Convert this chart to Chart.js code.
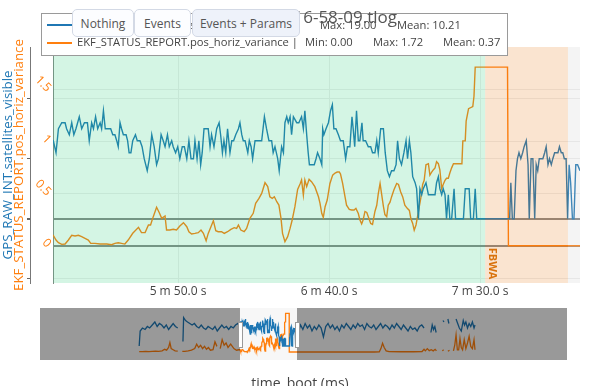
<!DOCTYPE html>
<html>
<head>
<meta charset="utf-8">
<script src="https://cdn.jsdelivr.net/npm/chart.js@4.4.0/dist/chart.umd.min.js"></script>
<style>
  body { margin: 0; background: #fff; }
  #wrap { position: relative; width: 600px; height: 386px; overflow: hidden; }
  #mainChart { position: absolute; left: 0; top: 0; }
  #navChart { position: absolute; left: 0; top: 300px; }
  .btn { position: absolute; top: 9px; height: 28px; padding: 0; box-sizing: border-box;
         border: 1px solid #d3d9e5; border-radius: 5px; background: #fcfdff; color: #555;
         font: 12px "Open Sans", sans-serif; }
  .btn.sel { background: #eef2fa; }
</style>
</head>
<body>
<div id="wrap">
  <canvas id="mainChart" width="600" height="300"></canvas>
  <canvas id="navChart" width="600" height="86"></canvas>
  <button class="btn" style="left:72px;width:62px">Nothing</button>
  <button class="btn" style="left:134px;width:57px">Events</button>
  <button class="btn sel" style="left:192px;width:108px">Events + Params</button>
</div>
<script>
// --- data (time in seconds since boot) ---
const chartTitle = '16-58-09.tlog';
const gpsTitle = 'GPS_RAW_INT.satellites_visible';
const ekfTitle = 'EKF_STATUS_REPORT.pos_horiz_variance';
const gpsStats = ['Min: 0.00', 'Max: 19.00', 'Mean: 10.21'];
const ekfStats = ['Min: 0.00', 'Max: 1.72', 'Mean: 0.37'];

// visible window of the main plot
const viewRange = [308.6, 483.1];
const xTicks = [350, 400, 450];
const varTicks = [0, 0.5, 1, 1.5];
const satTicks = [-10, 0, 10, 20];

// flight modes
const modeStart = [0, 451.7, 479.1];
const modeEnd = [451.7, 479.1, 1028];
const modeNames = ['', 'FBWA', ''];

// GPS satellites, before the window (only seen in the range slider)
const gpsTimeEarly = [0, 3, 10, 18, 25, 32, 40, 48, 55, 62,
  69, 76, 83, 90, 97, 104, 111, 118, 126, 134,
  136, 142, 148, 155, 162, 169, 176, 183, 190, 197,
  204, 211, 218, 225, 232, 239, 246, 253, 260, 267,
  274, 281, 288, 295, 302];
const gpsSatsEarly = [0, 10, 12, 11, 13, 12, 14, 16, 13, 15,
  14, 12, 14, 11, 13, 15, 13, 12, null, 3,
  19, 17, 16, 15, 14, 15, 13, 12, 14, 12,
  11, 13, 12, 11, 13, 10, 12, 14, 12, 13,
  11, 13, 12, 14, 15];

// GPS satellites, inside the window
const gpsTime = [308.7, 309.6, 310.4, 311.5, 312.6, 313.1, 314.0, 314.8, 315.5, 316.2,
  317.3, 318.1, 319.0, 320.0, 320.6, 321.4, 322.0, 322.7, 323.4, 324.2,
  324.7, 325.3, 325.9, 326.9, 327.7, 328.4, 329.1, 329.7, 330.2, 330.8,
  331.3, 331.9, 332.8, 333.3, 333.8, 334.4, 335.0, 335.9, 336.5, 337.4,
  338.1, 338.8, 339.8, 340.5, 341.3, 342.1, 342.9, 343.5, 344.4, 345.1,
  345.7, 346.5, 347.1, 347.9, 348.4, 349.2, 349.9, 350.6, 351.4, 352.1,
  352.9, 353.6, 354.3, 355.1, 355.6, 356.3, 356.9, 357.5, 358.0, 358.6,
  359.5, 360.0, 360.6, 361.1, 361.9, 362.8, 363.6, 364.1, 364.7, 365.2,
  365.8, 366.4, 367.2, 367.8, 368.4, 369.1, 370.0, 370.5, 371.1, 371.6,
  372.2, 373.1, 373.6, 374.2, 374.7, 375.5, 376.0, 376.8, 377.7, 378.6,
  379.3, 380.1, 381.0, 381.5, 382.1, 383.0, 383.5, 384.3, 384.9, 385.4,
  386.0, 386.5, 387.1, 387.6, 388.2, 389.3, 390.0, 390.9, 391.5, 392.0,
  392.6, 393.1, 393.5, 394.2, 395.1, 395.7, 396.2, 397.0, 397.6, 397.9,
  398.3, 399.0, 399.8, 400.5, 401.1, 401.6, 402.3, 403.1, 403.8, 404.7,
  405.5, 406.1, 406.9, 407.6, 408.0, 408.5, 409.1, 409.7, 410.2, 410.9,
  411.3, 412.1, 413.0, 413.8, 414.4, 415.2, 415.8, 416.3, 417.1, 418.0,
  418.6, 419.3, 420.0, 420.7, 421.5, 422.2, 422.7, 423.3, 424.0, 424.8,
  425.5, 426.0, 426.6, 427.1, 427.7, 428.5, 429.0, 429.6, 430.1, 430.7,
  431.2, 432.1, 432.9, 434.0, 435.1, 435.6, 436.2, 436.7, 437.3, 437.8,
  438.4, 438.9, 439.5, 440.0, 440.6, 441.4, 441.9, 444.5, 445.1, 446.4,
  446.9, 447.8, 448.4, 448.9, 459.4, 459.8, 460.2, 460.7, 461.3, 461.9,
  462.4, 462.9, 463.5, 464.1, 464.6, 465.3, 465.9, 466.3, 466.9, 467.5,
  468.1, 468.6, 469.1, 469.6, 470.1, 470.8, 471.4, 471.9, 472.5, 473.0,
  473.6, 474.1, 474.7, 475.2, 475.8, 476.3, 476.9, 477.4, 477.9, 478.5,
  479.0, 479.5, 480.0, 480.6, 481.1, 481.7, 482.3, 483.1];
const gpsSats = [13, 11, 15, 16, 16, 15, 14, 16, 14, 15,
  17, 15, 16, 16, 13, 16, 15, 17, 15, 16,
  15, 18, 15, 15, 15, 14, 14, 13, 12, 16,
  15, 14, 14, 13, 11, 11, 13, 14, 13, 13,
  12, 10, 8, 10, 14, 12, 9, 10, 14, 13,
  12, 14, 12, 13, 12, 11, 12, 10, 12, 12,
  10, 13, 10, 10, 13, 10, 13, 9, 11, 15,
  15, 15, 12, 14, 12, 15, 16, 14, 11, 13,
  11, 15, 11, 13, 13, 14, 15, 16, 14, 13,
  13, 11, 13, 12, 10, 13, 13, 13, 13, 17,
  15, 13, 13, 11, 12, 10, 8, 12, 11, 16,
  17, 16, 17, 14, 17, 16, 16, 17, 15, 18,
  14, 11, 9, 9, 9, 10, 11, 10, 9, 15,
  14, 15, 16, 18, 19, 15, 15, 14, 13, 13,
  10, 12, 12, 17, 15, 12, 18, 13, 13, 16,
  13, 13, 12, 12, 11, 11, 13, 11, 15, 15,
  11, 8, 7, 8, 8, 9, 13, 10, 9, 11,
  13, 10, 13, 11, 7, 6, 5, 0, 5, 4,
  5, 6, 4, 4, 4, 6, 7, 5, 4, 5,
  4, 0, 4, 0, 0, 5, 0, 0, 5, 5,
  0, 0, 5, 0, 0, 0, 6, 0, 0, 8,
  10, 11, 10, 11, 12, 13, 9, 0, 10, 10,
  0, 9, 8, 10, 10, 10, 11, 12, 9, 10,
  9, 10, 11, 11, 11, 12, 11, 11, 10, 10,
  0, 9, 6, 0, 0, 9, 9, 8];

// GPS satellites, after the window
const gpsTimeLate = [487, 494, 501, 508, 515, 522, 529, 536, 543, 550,
  557, 564, 571, 578, 585, 592, 599, 606, 613, 620,
  627, 634, 641, 648, 655, 662, 669, 676, 683, 690,
  697, 704, 711, 718, 725, 732, 739, 746, 753, 760,
  767, 774, 781, 788, 795, 802, 809, 816, 823, 830,
  837, 844, 851, 858, 865, 872, 880, 893, 897, 901,
  905, 909, 915, 930, 933, 938, 945, 948, 955, 970,
  975, 980, 986, 992, 996, 1000, 1005, 1010, 1015, 1020,
  1025, 1028];
const gpsSatsLate = [9, 14, 11, 15, 12, 14, 10, 13, 11, 14,
  12, 6, 13, 15, 12, 14, 11, 13, 10, 14,
  12, 15, 13, 11, 14, 12, 15, 13, 14, 11,
  15, 13, 12, 14, 11, 13, 15, 12, 14, 13,
  11, 14, 12, 15, 13, 11, 14, 12, 10, 13,
  11, 12, 10, 13, 14, 12, null, 9, 14, 11,
  13, 9, null, 17, 16, null, 18, 15, null, 18,
  15, 12, 10, 17, 14, 16, 12, 15, 13, 16,
  12, 14];

// EKF horizontal position variance
const ekfTimeEarly = [0, 10, 20, 30, 40, 50, 60, 70, 78, 84,
  90, 94, 98, 104, 110, 118, 125, 132, 140, 150,
  160, 170, 176, 182, 188, 194, 200, 206, 212, 218,
  226, 232, 238, 243, 248, 254, 260, 266, 272, 280,
  290, 298, 305];
const ekfVarEarly = [0.02, 0.02, 0.03, 0.02, 0.03, 0.04, 0.03, 0.05, 0.12, 0.08,
  0.2, 0.42, 0.15, 0.1, 0.05, 0.04, null, 0.03, 0.03, 0.05,
  0.08, 0.15, 0.35, 0.2, 0.3, 0.15, 0.25, 0.12, 0.2, 0.08,
  0.1, 0.45, 0.25, null, 0.15, 0.55, 0.3, 0.4, 0.2, 0.35,
  0.15, 0.08, 0.1];

const ekfTime = [308.7, 309.6, 310.4, 311.5, 312.6, 313.7, 314.8, 315.9, 317.0, 318.1,
  319.2, 320.3, 321.1, 322.5, 324.2, 326.4, 328.0, 329.1, 330.2, 331.3,
  332.4, 333.5, 335.0, 336.9, 337.9, 339.1, 340.2, 340.9, 341.8, 342.9,
  343.8, 344.6, 345.7, 346.2, 347.3, 348.4, 349.5, 350.6, 351.8, 352.9,
  353.6, 354.5, 355.6, 356.7, 357.6, 358.4, 359.3, 360.0, 360.9, 361.7,
  362.5, 363.3, 364.4, 365.3, 366.4, 367.5, 368.6, 369.4, 370.0, 370.8,
  371.9, 372.7, 373.8, 374.9, 375.7, 376.8, 377.7, 378.8, 379.7, 380.4,
  381.2, 381.9, 382.7, 383.4, 384.1, 384.6, 385.4, 386.3, 387.1, 387.8,
  388.7, 389.6, 390.4, 390.9, 391.5, 392.0, 392.6, 393.4, 394.2, 395.3,
  396.5, 397.0, 397.6, 398.1, 398.7, 399.4, 400.3, 401.2, 402.0, 402.7,
  403.4, 403.8, 404.5, 405.3, 405.8, 406.7, 407.5, 408.3, 408.9, 409.7,
  410.2, 410.8, 411.3, 411.9, 412.5, 413.0, 413.8, 414.4, 415.2, 415.8,
  416.3, 416.9, 417.4, 418.0, 418.5, 419.1, 419.6, 420.2, 420.7, 421.5,
  422.4, 423.0, 423.7, 424.4, 425.1, 425.9, 426.6, 427.1, 427.7, 428.2,
  428.8, 429.3, 429.9, 430.4, 431.0, 431.5, 432.1, 432.9, 433.4, 434.0,
  434.5, 435.1, 435.6, 436.2, 436.7, 437.3, 437.8, 438.4, 438.9, 439.5,
  440.0, 440.6, 441.2, 444.0, 444.3, 445.1, 445.4, 446.2, 447.6, 448.0,
  448.4, 459.1, 459.4, 483.1];
const ekfVar = [0.10, 0.055, 0.03, 0.013, 0.016, 0.055, 0.10, 0.094, 0.10, 0.087,
  0.071, 0.055, 0.023, 0.023, 0.016, 0.016, 0.01, 0.023, 0.029, 0.023,
  0.016, 0.055, 0.12, 0.177, 0.126, 0.126, 0.2, 0.2, 0.28, 0.37,
  0.318, 0.264, 0.286, 0.151, 0.151, 0.158, 0.151, 0.19, 0.222, 0.183,
  0.135, 0.113, 0.119, 0.126, 0.151, 0.119, 0.048, 0.119, 0.183, 0.241,
  0.145, 0.135, 0.135, 0.119, 0.135, 0.158, 0.174, 0.167, 0.2, 0.151,
  0.135, 0.167, 0.264, 0.312, 0.408, 0.456, 0.504, 0.607, 0.569, 0.472,
  0.456, 0.472, 0.424, 0.392, 0.264, 0.119, 0.039, 0.087, 0.167, 0.248,
  0.376, 0.543, 0.594, 0.633, 0.488, 0.633, 0.569, 0.639, 0.617, 0.569,
  0.472, 0.41, 0.31, 0.273, 0.376, 0.44, 0.60, 0.68, 0.70, 0.71,
  0.71, 0.69, 0.60, 0.47, 0.39, 0.35, 0.344, 0.344, 0.36, 0.31,
  0.25, 0.21, 0.25, 0.33, 0.32, 0.28, 0.215, 0.206, 0.33, 0.39,
  0.50, 0.60, 0.50, 0.38, 0.30, 0.28, 0.39, 0.42, 0.47, 0.54,
  0.60, 0.59, 0.52, 0.47, 0.39, 0.36, 0.34, 0.26, 0.215, 0.15,
  0.20, 0.28, 0.38, 0.46, 0.59, 0.63, 0.78, 0.79, 0.68, 0.71,
  0.73, 0.75, 0.81, 0.79, 0.73, 0.55, 0.59, 0.63, 0.65, 0.65,
  0.70, 0.75, 0.79, 0.79, 1.01, 1.01, 1.20, 1.32, 1.34, 1.44,
  1.72, 1.72, 0, 0];

const ekfTimeLate = [487, 520, 560, 600, 640, 680, 720, 735, 740, 745,
  750, 756, 765, 800, 840, 866, 872, 876, 882, 888,
  894, 900, 906, 910, 916, 928, 932, 938, 945, 950,
  955, 962, 966, 970, 974, 978, 982, 986, 990, 995,
  1000, 1005, 1010, 1015, 1020, 1025, 1028];
const ekfVarLate = [0, 0, 0, 0, 0, 0, 0, 0.01, 0.15, 0.39,
  0.2, 0.05, 0.02, 0.01, 0.01, 0.02, 0.12, 0.05, 0.15, 0.06,
  0.1, 0.05, 0.12, 0.05, null, 0.05, 0.1, null, 0.03, 0.08,
  null, 0.05, 0.3, 0.76, 0.1, 0.1, 0.6, 0.2, 0.1, 0.55,
  0.15, 0.4, 0.7, 0.25, 0.15, 0.55, 0.1];

// --- styling ---
const C_GPS = '#1f77b4';
const C_EKF = '#ff7f0e';
const FONT = '"Open Sans", sans-serif';
const modeFill = ['rgba(40,205,120,0.2)', 'rgba(230,120,20,0.2)', 'rgba(200,200,200,0.2)'];

const pts = (t, v) => t.map((x, i) => ({ x: x, y: v[i] }));
const gpsData = pts(gpsTimeEarly.concat(gpsTime, gpsTimeLate), gpsSatsEarly.concat(gpsSats, gpsSatsLate));
const ekfData = pts(ekfTimeEarly.concat(ekfTime, ekfTimeLate), ekfVarEarly.concat(ekfVar, ekfVarLate));

const fmtTime = s => Math.floor(s / 60) + ' m ' + (s % 60).toFixed(1) + ' s';
const setTicks = list => scale => { scale.ticks = list.map(v => ({ value: v })); };

// pick a font size so that a string spans the given width
function fitSize(ctx, text, base, width) {
  ctx.font = base + 'px ' + FONT;
  return base * width / ctx.measureText(text).width;
}

// mode shading sits on top of the traces, like the original plot
const modeShading = {
  id: 'modeShading',
  afterDatasetsDraw(chart) {
    const { ctx, chartArea: a } = chart;
    const x = chart.scales.x, yv = chart.scales.yVar;
    ctx.save();
    ctx.beginPath();
    ctx.rect(a.left, a.top, a.width, a.height);
    ctx.clip();
    modeStart.forEach((s, i) => {
      const x0 = x.getPixelForValue(s), x1 = x.getPixelForValue(modeEnd[i]);
      ctx.fillStyle = modeFill[i];
      ctx.fillRect(x0, a.top, x1 - x0, a.height);
      if (modeNames[i]) {
        ctx.save();
        ctx.translate(x0 + 12, yv.getPixelForValue(0) + 2);
        ctx.rotate(Math.PI / 2);
        ctx.font = 'bold 11px ' + FONT;
        ctx.fillStyle = '#d9730d';
        ctx.textAlign = 'left';
        ctx.textBaseline = 'top';
        ctx.fillText(modeNames[i], 0, 0);
        ctx.restore();
      }
    });
    ctx.restore();
  }
};

const decorations = {
  id: 'decorations',
  afterDraw(chart) {
    const { ctx, chartArea: a } = chart;
    const yv = chart.scales.yVar;
    const cy = (a.top + a.bottom) / 2;
    ctx.save();

    // rotated tick labels of the variance axis
    ctx.font = '12px ' + FONT;
    ctx.fillStyle = C_EKF;
    ctx.textAlign = 'right';
    ctx.textBaseline = 'middle';
    varTicks.forEach(v => {
      ctx.save();
      ctx.translate(a.left - 4, yv.getPixelForValue(v));
      ctx.rotate(Math.PI / 4);
      ctx.fillText(String(v), 0, 0);
      ctx.restore();
    });

    // axis titles, overlapping as in the original
    const tSize = fitSize(ctx, ekfTitle, 14, 252);
    ctx.font = tSize + 'px ' + FONT;
    ctx.textAlign = 'center';
    [[8, C_GPS, gpsTitle], [19, C_EKF, ekfTitle]].forEach(([x, c, s]) => {
      ctx.save();
      ctx.translate(x, cy);
      ctx.rotate(-Math.PI / 2);
      ctx.fillStyle = c;
      ctx.fillText(s, 0, 0);
      ctx.restore();
    });

    // legend box
    ctx.fillStyle = '#fff';
    ctx.fillRect(41.5, 13.5, 466, 42);
    ctx.strokeStyle = '#9a9a9a';
    ctx.lineWidth = 1;
    ctx.strokeRect(41.5, 13.5, 466, 42);
    ctx.lineWidth = 2;
    ctx.strokeStyle = C_GPS;
    ctx.beginPath(); ctx.moveTo(47, 25); ctx.lineTo(72, 25); ctx.stroke();
    ctx.strokeStyle = C_EKF;
    ctx.beginPath(); ctx.moveTo(47, 43); ctx.lineTo(72, 43); ctx.stroke();
    const lSize = fitSize(ctx, ekfTitle + ' |', 12, 221);
    ctx.font = lSize + 'px ' + FONT;
    ctx.fillStyle = '#444';
    ctx.textAlign = 'left';
    ctx.fillText(gpsTitle + ' |', 77, 26);
    [252, 320, 397].forEach((x, i) => ctx.fillText(gpsStats[i], x, 26));
    ctx.fillText(ekfTitle + ' |', 77, 43);
    [305, 373, 443].forEach((x, i) => ctx.fillText(ekfStats[i], x, 43));

    // chart title
    ctx.font = '17px ' + FONT;
    ctx.fillStyle = '#555';
    ctx.textAlign = 'right';
    ctx.fillText(chartTitle, 397, 18);
    ctx.restore();
  }
};

const zeroGrid = c => c.tick.value === 0 ? '#888' : '#eee';
const zeroWidth = c => c.tick.value === 0 ? 2 : 1;

new Chart(document.getElementById('mainChart'), {
  type: 'line',
  data: {
    datasets: [
      { label: gpsTitle, data: gpsData, yAxisID: 'ySats', borderColor: C_GPS, borderWidth: 1.4, pointRadius: 0 },
      { label: ekfTitle, data: ekfData, yAxisID: 'yVar', borderColor: C_EKF, borderWidth: 1.4, pointRadius: 0 }
    ]
  },
  options: {
    responsive: false,
    animation: false,
    layout: { padding: { top: 47, right: 20, left: 0, bottom: 0 } },
    plugins: { legend: { display: false }, tooltip: { enabled: false } },
    scales: {
      x: {
        type: 'linear', min: viewRange[0], max: viewRange[1],
        afterBuildTicks: setTicks(xTicks),
        afterFit: s => { s.height = 17; },
        ticks: { callback: fmtTime, color: '#444', font: { family: FONT, size: 12 }, padding: 1, maxRotation: 0 },
        grid: { color: '#eee', drawTicks: false },
        border: { display: false }
      },
      yVar: {
        position: 'left', min: -0.359, max: 1.914,
        afterBuildTicks: setTicks(varTicks),
        afterFit: s => { s.width = 23; },
        ticks: { display: false },
        grid: { color: zeroGrid, lineWidth: zeroWidth, drawTicks: false },
        border: { color: '#888' }
      },
      ySats: {
        position: 'left', weight: 1, min: -10.72, max: 28.62,
        afterBuildTicks: setTicks(satTicks),
        afterFit: s => { s.width = 30; },
        ticks: { display: false },
        grid: { color: zeroGrid, lineWidth: zeroWidth, tickColor: '#666', tickLength: 3 },
        border: { color: '#777' }
      }
    }
  },
  plugins: [modeShading, decorations]
});

// range slider under the plot
const rangeSlider = {
  id: 'rangeSlider',
  beforeDatasetsDraw(chart) {
    const { ctx, chartArea: a } = chart;
    ctx.save();
    ctx.fillStyle = '#f7f7f7';
    ctx.fillRect(a.left, a.top, a.width, a.height);
    ctx.restore();
  },
  afterDatasetsDraw(chart) {
    const { ctx, chartArea: a } = chart;
    const x = chart.scales.x;
    const w0 = x.getPixelForValue(viewRange[0]), w1 = x.getPixelForValue(viewRange[1]);
    ctx.save();
    ctx.fillStyle = 'rgba(0,0,0,0.38)';
    ctx.fillRect(a.left, a.top, w0 - a.left, a.height);
    ctx.fillRect(w1, a.top, a.right - w1, a.height);
    ctx.fillStyle = '#fff';
    ctx.strokeStyle = '#999';
    ctx.lineWidth = 1;
    [w0, w1].forEach(px => {
      ctx.fillRect(px - 2, a.top + 14, 4, 25);
      ctx.strokeRect(Math.round(px) - 1.5, a.top + 14.5, 4, 25);
    });
    ctx.restore();
  },
  afterDraw(chart) {
    const { ctx } = chart;
    ctx.save();
    ctx.font = '14px ' + FONT;
    ctx.fillStyle = '#444';
    ctx.textAlign = 'center';
    ctx.textBaseline = 'alphabetic';
    ctx.fillText('time_boot (ms)', 300, 88);
    ctx.restore();
  }
};

new Chart(document.getElementById('navChart'), {
  type: 'line',
  data: {
    datasets: [
      { data: gpsData, yAxisID: 'ySats', borderColor: C_GPS, borderWidth: 1.3, pointRadius: 0 },
      { data: ekfData, yAxisID: 'yVar', borderColor: C_EKF, borderWidth: 1.3, pointRadius: 0 }
    ]
  },
  options: {
    responsive: false,
    animation: false,
    layout: { padding: { left: 40, right: 33, top: 8, bottom: 26 } },
    plugins: { legend: { display: false }, tooltip: { enabled: false } },
    scales: {
      x: { type: 'linear', display: false, min: -303.6, max: 1309.6 },
      ySats: { display: false, min: -9.33, max: 25.33 },
      yVar: { display: false, min: -0.356, max: 1.956 }
    }
  },
  plugins: [rangeSlider]
});
</script>
</body>
</html>
